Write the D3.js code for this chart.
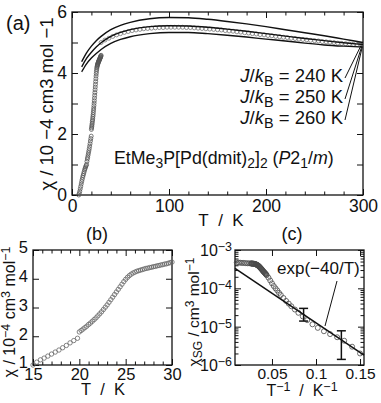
<!DOCTYPE html>
<html>
<head>
<meta charset="utf-8">
<script src="https://cdn.jsdelivr.net/npm/d3@7"></script>
<style>
  body { margin: 0; background: #fff; }
  text { font-family: "Liberation Sans", Arial, sans-serif; fill: #111; }
</style>
</head>
<body>
<div id="chart"></div>
<script>
// ---- (a) 1D Heisenberg model curves
const curveT  = [10, 15, 20, 25, 30, 40, 50, 60, 80, 100, 120, 140, 160, 180, 200, 220, 240, 260, 280, 300];
const chiJ240 = [4.37, 4.66, 4.88, 5.06, 5.20, 5.42, 5.56, 5.66, 5.78, 5.82, 5.81, 5.76, 5.69, 5.61, 5.52, 5.42, 5.32, 5.22, 5.11, 5.00];
const chiJ250 = [4.20, 4.48, 4.68, 4.85, 4.99, 5.20, 5.33, 5.42, 5.52, 5.55, 5.54, 5.50, 5.44, 5.37, 5.29, 5.21, 5.13, 5.06, 4.99, 4.93];
const chiJ260 = [4.04, 4.30, 4.49, 4.64, 4.77, 4.97, 5.10, 5.19, 5.29, 5.33, 5.33, 5.29, 5.24, 5.18, 5.11, 5.05, 4.98, 4.92, 4.88, 4.85];
const jValues = [240, 250, 260];

// ---- (a) measured chi, high temperature run
const highT = [30, 34, 38, 42, 46, 50, 54, 58, 62, 66, 70, 74, 78, 82, 86, 90, 94, 98, 102, 106, 110, 114, 118, 122, 126, 130, 134, 138, 142, 146,
  150, 154, 158, 162, 166, 170, 174, 178, 182, 186, 190, 194, 198, 202, 206, 210, 214, 218, 222, 226, 230, 234, 238, 242, 246, 250,
  254, 258, 262, 266, 270, 274, 278, 282, 286, 290, 294, 298];
const highChi = [5.00, 5.08, 5.14, 5.20, 5.25, 5.29, 5.33, 5.36, 5.39, 5.41, 5.43, 5.45, 5.46, 5.47, 5.48, 5.49, 5.49, 5.50, 5.50, 5.50, 5.50, 5.50, 5.49, 5.49, 5.48, 5.47, 5.46, 5.45, 5.44, 5.43,
  5.42, 5.41, 5.39, 5.38, 5.37, 5.35, 5.34, 5.32, 5.31, 5.29, 5.28, 5.26, 5.25, 5.23, 5.22, 5.20, 5.19, 5.17, 5.16, 5.14, 5.13, 5.11, 5.10, 5.09, 5.07, 5.06,
  5.05, 5.03, 5.02, 5.01, 5.00, 4.98, 4.97, 4.96, 4.95, 4.94, 4.93, 4.92];

// ---- (a),(b) measured chi, low temperature run
const lowT = [7.0, 7.5, 8.0, 8.5, 9.0, 9.5, 10.0, 10.5, 11.0, 11.5, 12.0, 12.5, 13.0, 13.5, 14.0, 14.5,
  15.0, 15.4, 15.8, 16.2, 16.6, 17.0, 17.4, 17.8, 18.2, 18.6, 19.0, 19.4, 19.8,
  20.0, 20.2, 20.4, 20.6, 20.8, 21.0, 21.2, 21.4, 21.6, 21.8, 22.0, 22.2, 22.4, 22.6, 22.8, 23.0, 23.2, 23.4, 23.6, 23.8,
  24.0, 24.2, 24.4, 24.6, 24.8, 25.0, 25.2, 25.4, 25.6, 25.8, 26.0, 26.2, 26.4, 26.6, 26.8, 27.0, 27.2, 27.4, 27.6, 27.8,
  28.0, 28.2, 28.4, 28.6, 28.8, 29.0, 29.2, 29.4, 29.6, 29.8, 30.0];
const lowChi = [0.00, 0.05, 0.12, 0.20, 0.28, 0.36, 0.44, 0.51, 0.58, 0.64, 0.70, 0.76, 0.82, 0.87, 0.92, 0.96,
  1.00, 1.10, 1.18, 1.24, 1.31, 1.38, 1.45, 1.52, 1.60, 1.68, 1.77, 1.85, 1.93,
  2.15, 2.20, 2.25, 2.30, 2.35, 2.41, 2.46, 2.52, 2.58, 2.64, 2.71, 2.78, 2.85, 2.93, 3.01, 3.09, 3.18, 3.27, 3.36, 3.45,
  3.54, 3.63, 3.72, 3.81, 3.90, 3.98, 4.05, 4.11, 4.16, 4.20, 4.23, 4.26, 4.28, 4.30, 4.32, 4.34, 4.36, 4.37, 4.39, 4.40,
  4.42, 4.43, 4.45, 4.46, 4.48, 4.49, 4.51, 4.52, 4.54, 4.56, 4.58];

// ---- (c) spin-gap part vs 1/T
const invT = [0.010, 0.012, 0.014, 0.016, 0.018, 0.020, 0.022, 0.024,
  0.0260, 0.0265, 0.0270, 0.0275, 0.0280, 0.0285, 0.0290, 0.0295, 0.0300, 0.0305, 0.0310, 0.0315, 0.0320, 0.0325, 0.0330, 0.0335,
  0.0340, 0.0345, 0.0350, 0.0355, 0.0360, 0.0365, 0.0370, 0.0375, 0.0380, 0.0385, 0.0390, 0.0395, 0.0400, 0.0405, 0.0410, 0.0415,
  0.0420, 0.0425, 0.0430, 0.0435, 0.0440,
  0.046, 0.048, 0.050, 0.052, 0.054, 0.056, 0.058, 0.060,
  0.063, 0.066, 0.069, 0.072, 0.076, 0.080, 0.085, 0.090, 0.096, 0.102, 0.109, 0.116, 0.124, 0.132, 0.141, 0.150];
const chiSG = [4.7e-4, 4.7e-4, 4.65e-4, 4.6e-4, 4.6e-4, 4.55e-4, 4.5e-4, 4.5e-4,
  4.45e-4, 4.45e-4, 4.45e-4, 4.42e-4, 4.4e-4, 4.4e-4, 4.4e-4, 4.37e-4, 4.35e-4, 4.32e-4, 4.3e-4, 4.25e-4, 4.2e-4, 4.15e-4, 4.1e-4, 4.03e-4,
  3.95e-4, 3.88e-4, 3.8e-4, 3.7e-4, 3.6e-4, 3.5e-4, 3.4e-4, 3.3e-4, 3.2e-4, 3.1e-4, 3.0e-4, 2.9e-4, 2.8e-4, 2.72e-4, 2.65e-4, 2.57e-4,
  2.5e-4, 2.42e-4, 2.35e-4, 2.27e-4, 2.2e-4,
  1.9e-4, 1.6e-4, 1.35e-4, 1.15e-4, 1.0e-4, 8.8e-5, 7.6e-5, 6.7e-5,
  5.6e-5, 4.7e-5, 4.0e-5, 3.4e-5, 2.8e-5, 2.3e-5, 1.85e-5, 1.48e-5, 1.15e-5, 9.3e-6, 7.6e-6, 6.4e-6, 5.3e-6, 4.3e-6, 3.0e-6, 2.0e-6];
const fitX = [0.008, 0.1545];
const fitY = [3.3e-4, 1.8e-6];
const errX  = [0.0859, 0.1288];
const errLo = [1.4e-5, 1.4e-6];
const errHi = [3.0e-5, 7.8e-6];

// tick labels
const aTickX = [0, 100, 200, 300], aTickY = [0, 2, 4, 6];
const bTickX = [15, 20, 25, 30],   bTickY = [1, 2, 3, 4, 5];
const cTickX = [0.05, 0.1, 0.15],  cTickY = [1e-3, 1e-4, 1e-5, 1e-6];

const NB = "\u00a0";

const svg = d3.select("#chart").append("svg")
    .attr("width", 381).attr("height", 403);
svg.append("rect").attr("width", 381).attr("height", 403).attr("fill", "#fff");

// text with italic / sub / sup pieces
function rich(sel, parts) {
    parts.forEach(p => {
        const [t, k] = typeof p === "string" ? [p, ""] : p;
        const ts = sel.append("tspan").text(t);
        if (k.includes("i")) ts.attr("font-style", "italic");
        if (k.includes("sub")) ts.attr("baseline-shift", "-28%").attr("font-size", "78%");
        if (k.includes("sup")) ts.attr("baseline-shift", "38%").attr("font-size", "78%");
    });
    return sel;
}

// frame with inward ticks on all four sides
function box(x, y, o) {
    const g = svg.append("g");
    const [xa, xb] = x.range(), [yb, ya] = y.range();
    const tk = (mk, t, vals, size) => {
        if (!vals.length) return;
        g.append("g").attr("transform", t)
            .call(mk().tickValues(vals).tickSize(-size).tickFormat(""))
            .call(s => s.select(".domain").remove())
            .selectAll("line").attr("stroke", "#111").attr("stroke-width", 1);
    };
    tk(() => d3.axisBottom(x), `translate(0,${yb})`, o.xMaj, 6);
    tk(() => d3.axisTop(x),    `translate(0,${ya})`, o.xMaj, 6);
    tk(() => d3.axisBottom(x), `translate(0,${yb})`, o.xMin, 3.5);
    tk(() => d3.axisTop(x),    `translate(0,${ya})`, o.xMin, 3.5);
    tk(() => d3.axisLeft(y),   `translate(${xa},0)`, o.yMaj, 6);
    tk(() => d3.axisRight(y),  `translate(${xb},0)`, o.yMaj, 6);
    tk(() => d3.axisLeft(y),   `translate(${xa},0)`, o.yMin, 3.5);
    tk(() => d3.axisRight(y),  `translate(${xb},0)`, o.yMin, 3.5);
    g.append("rect")
        .attr("x", xa).attr("y", ya).attr("width", xb - xa).attr("height", yb - ya)
        .attr("fill", "none").attr("stroke", "#111").attr("stroke-width", 1.3);
    return g;
}

function labelsX(x, yPos, vals, fmt, size, pad) {
    return svg.append("g").attr("transform", `translate(0,${yPos})`)
        .call(d3.axisBottom(x).tickValues(vals).tickSize(0).tickPadding(pad).tickFormat(fmt))
        .call(s => s.select(".domain").remove())
        .attr("font-family", null).attr("font-size", size);
}
function labelsY(y, xPos, vals, fmt, size, pad) {
    return svg.append("g").attr("transform", `translate(${xPos},0)`)
        .call(d3.axisLeft(y).tickValues(vals).tickSize(0).tickPadding(pad).tickFormat(fmt))
        .call(s => s.select(".domain").remove())
        .attr("font-family", null).attr("font-size", size);
}

function circles(data, x, y, r, stroke) {
    svg.append("g").selectAll("circle").data(data).join("circle")
        .attr("cx", d => x(d[0])).attr("cy", d => y(d[1])).attr("r", r)
        .attr("fill", "none").attr("stroke", stroke).attr("stroke-width", 0.8);
}

const lowData = lowT.map((t, i) => [t, lowChi[i]]);

// ================= (a)
{
    const x = d3.scaleLinear().domain([0, 300]).range([72, 363]);
    const y = d3.scaleLinear().domain([0, 6]).range([195, 12]);
    box(x, y, {
        xMaj: aTickX, xMin: d3.range(20, 300, 20).filter(v => v % 100),
        yMaj: d3.range(0, 7, 1), yMin: []
    });
    labelsX(x, 195, aTickX, d3.format("d"), 17.5, 5);
    labelsY(y, 72, aTickY, d3.format("d"), 17.5, 5);

    circles(highT.map((t, i) => [t, highChi[i]]), x, y, 2, "#777");
    circles(lowData, x, y, 2, "#555");

    const line = d3.line().x(d => x(d[0])).y(d => y(d[1])).curve(d3.curveMonotoneX);
    const curves = [chiJ240, chiJ250, chiJ260];
    curves.forEach(c => {
        svg.append("path").attr("d", line(curveT.map((t, i) => [t, c[i]])))
            .attr("fill", "none").attr("stroke", "#111").attr("stroke-width", 1.4);
    });

    // J/kB labels with leader lines to the curve ends
    jValues.forEach((j, i) => {
        const by = 82 + i * 21;
        rich(svg.append("text").attr("x", 343).attr("y", by).attr("text-anchor", "end").attr("font-size", 18.5),
            [["J", "i"], "/", ["k", "i"], ["B", "sub"], ` = ${j} K`]);
        svg.append("line")
            .attr("x1", 345).attr("y1", by - 4)
            .attr("x2", x(300) - 1).attr("y2", y(curves[i][curveT.length - 1]) + 1)
            .attr("stroke", "#111").attr("stroke-width", 1);
    });

    rich(svg.append("text").attr("x", 114).attr("y", 164).attr("font-size", 17.8),
        ["EtMe", ["3", "sub"], "P[Pd(dmit)", ["2", "sub"], "]", ["2", "sub"], " (", ["P", "i"], "2", ["1", "sub"], "/", ["m", "i"], ")"]);

    svg.append("text").attr("x", 6).attr("y", 30).attr("font-size", 20).text("(a)");
    svg.append("text").attr("x", 221).attr("y", 226).attr("text-anchor", "middle").attr("font-size", 17)
        .text(`T${NB}${NB}/${NB}${NB}K`);
    svg.append("text").attr("transform", "translate(53,104) rotate(-90)")
        .attr("text-anchor", "middle").attr("font-size", 18.5).text("χ / 10 −4 cm3 mol −1");
}

// ================= (b)
{
    const x = d3.scaleLinear().domain([15, 30]).range([33, 172]);
    const y = d3.scaleLinear().domain([1, 5]).range([365, 250]);
    box(x, y, {
        xMaj: bTickX, xMin: d3.range(16, 30, 1).filter(v => v % 5),
        yMaj: bTickY, yMin: []
    });
    labelsX(x, 365, bTickX, d3.format("d"), 16.5, 3);
    labelsY(y, 33, bTickY, d3.format("d"), 16.5, 5)
        .selectAll(".tick text").attr("dy", "0.18em");

    circles(lowData.filter(d => d[0] >= 15 && d[0] <= 30), x, y, 2.2, "#666");

    svg.append("text").attr("x", 97).attr("y", 240).attr("text-anchor", "middle").attr("font-size", 18).text("(b)");
    svg.append("text").attr("x", 103).attr("y", 395).attr("text-anchor", "middle").attr("font-size", 16.5)
        .text(`T${NB}${NB}/${NB}${NB}K`);
    rich(svg.append("text").attr("transform", "translate(15,312) rotate(-90)")
        .attr("text-anchor", "middle").attr("font-size", 16),
        ["χ / 10", ["−4", "sup"], " cm", ["3", "sup"], " mol", ["−1", "sup"]]);
}

// ================= (c)
{
    const x = d3.scaleLinear().domain([0.008, 0.1545]).range([235, 364]);
    const y = d3.scaleLog().domain([1e-6, 1e-3]).range([365, 250]);
    const minors = [];
    [1e-6, 1e-5, 1e-4].forEach(d => d3.range(2, 10).forEach(m => minors.push(d * m)));
    box(x, y, { xMaj: cTickX, xMin: [], yMaj: cTickY, yMin: minors });
    labelsX(x, 365, cTickX, d => String(d), 15.5, 3);

    // decade labels 10^n
    cTickY.forEach(v => {
        rich(svg.append("text").attr("x", 232).attr("y", y(v) + 6)
            .attr("text-anchor", "end").attr("font-size", 16),
            ["10", [`−${Math.round(-Math.log10(v))}`, "sup"]]);
    });

    circles(invT.map((t, i) => [t, chiSG[i]]), x, y, 2.5, "#4a4a4a");

    svg.append("path")
        .attr("d", d3.line().x(d => x(d[0])).y(d => y(d[1]))(fitX.map((t, i) => [t, fitY[i]])))
        .attr("stroke", "#111").attr("stroke-width", 1.5).attr("fill", "none");

    errX.forEach((t, i) => {
        const g = svg.append("g").attr("stroke", "#111").attr("stroke-width", 1.5);
        g.append("line").attr("x1", x(t)).attr("x2", x(t)).attr("y1", y(errLo[i])).attr("y2", y(errHi[i]));
        [errLo[i], errHi[i]].forEach(v => g.append("line")
            .attr("x1", x(t) - 4.5).attr("x2", x(t) + 4.5).attr("y1", y(v)).attr("y2", y(v)));
    });

    svg.append("text").attr("x", 277).attr("y", 274).attr("font-size", 17).text("exp(−40/T)");
    svg.append("line").attr("x1", 337).attr("y1", 281).attr("x2", 325).attr("y2", 326)
        .attr("stroke", "#111").attr("stroke-width", 1);

    svg.append("text").attr("x", 292).attr("y", 240).attr("text-anchor", "middle").attr("font-size", 18).text("(c)");
    rich(svg.append("text").attr("x", 302).attr("y", 396).attr("text-anchor", "middle").attr("font-size", 16),
        ["T", ["−1", "sup"], `${NB}${NB}/${NB}${NB}K`, ["−1", "sup"]]);
    rich(svg.append("text").attr("transform", "translate(199,312) rotate(-90)")
        .attr("text-anchor", "middle").attr("font-size", 15.5),
        ["χ", ["SG", "sub"], " / cm", ["3", "sup"], " mol", ["−1", "sup"]]);
}
</script>
</body>
</html>
